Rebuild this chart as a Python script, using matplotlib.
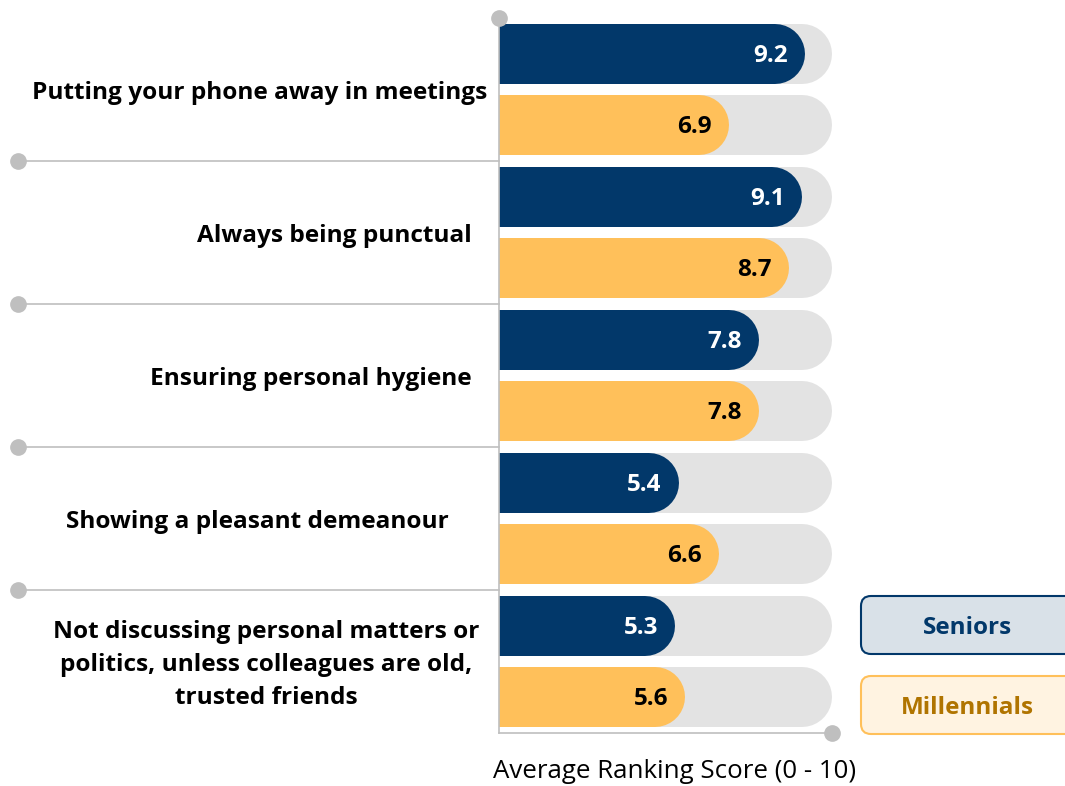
import matplotlib
matplotlib.use("Agg")
import matplotlib.pyplot as plt
from matplotlib.patches import FancyBboxPatch

# data
categories = ["Putting your phone away in meetings",
              "Always being punctual",
              "Ensuring personal hygiene",
              "Showing a pleasant demeanour",
              "Not discussing personal matters or\npolitics, unless colleagues are old,\ntrusted friends"]
seniors = [9.2, 9.1, 7.8, 5.4, 5.3]
millennials = [6.9, 8.7, 7.8, 6.6, 5.6]
series_names = ["Seniors", "Millennials"]
xlabel = "Average Ranking Score (0 - 10)"
score_max = 10

NAVY = "#02386A"
GOLD = "#FFC05A"
TRACK = "#E3E3E3"
LINE = "#BFBFBF"

plt.rcParams['font.family'] = ['Open Sans', 'DejaVu Sans']

W, H = 1065, 786
fig = plt.figure(figsize=(W / 100, H / 100), dpi=100)

ppu = 33.3          # pixels per score unit
x0_px = 499
xmax = 10.5
top_px, bot_px = 18, 733
ax = fig.add_axes([x0_px / W, (H - bot_px) / H, xmax * ppu / W, (bot_px - top_px) / H])
ax.set_xlim(0, xmax)
ax.set_ylim(9.5, -0.5)
ax.axis("off")

bar_pt = 60 * 0.72           # bar thickness 60 px in points
cap = 30 / ppu               # round cap length in data units

for i in range(len(categories)):
    for j, (vals, col, tcol) in enumerate([(seniors, NAVY, "white"), (millennials, GOLD, "black")]):
        y = 2 * i + j
        ax.plot([-1, score_max - cap], [y, y], color=TRACK, lw=bar_pt,
                solid_capstyle="round", zorder=1)
        ax.plot([-1, vals[i] - cap], [y, y], color=col, lw=bar_pt,
                solid_capstyle="round", zorder=2)
        ax.text(vals[i] - 0.52, y + 0.03, f"{vals[i]:.1f}", color=tcol, fontsize=17.5,
                fontweight="bold", ha="right", va="center", zorder=3)

# axis lines with dots
ax.plot([0, 0], [-0.5, 9.5], color=LINE, lw=1.2, clip_on=False, zorder=4)
ax.plot([0], [-0.5], "o", color=LINE, ms=11, clip_on=False, zorder=4)
ax.plot([0, score_max], [9.5, 9.5], color=LINE, lw=1.2, clip_on=False, zorder=4)
ax.plot([score_max], [9.5], "o", color=LINE, ms=11, clip_on=False, zorder=4)

left_x = (18 - x0_px) / ppu
for k in range(1, len(categories)):
    y = 2 * k - 0.5
    ax.plot([left_x, 0], [y, y], color=LINE, lw=1.2, clip_on=False, zorder=4)
    ax.plot([left_x], [y], "o", color=LINE, ms=11, clip_on=False, zorder=4)

# category labels
label_cx = [260, 334, 311, 257, 266]
for i, lab in enumerate(categories):
    ax.text((label_cx[i] - x0_px) / ppu, 2 * i + 0.55, lab, fontsize=17.6,
            fontweight="bold", ha="center", va="center", linespacing=1.5,
            clip_on=False)

fig.text(675 / W, 1 - 771 / H, xlabel, fontsize=18.6, ha="center", va="center")

# legend boxes
leg_styles = [(NAVY, "#D9E1E8", NAVY, 596), (GOLD, "#FFF3E1", "#B07400", 676)]
for name, (ec, fc, tc, ytop) in zip(series_names, leg_styles):
    box = FancyBboxPatch((8.61, (H - ytop - 58) / 100), 2.3, 0.58,
                         boxstyle="round,pad=0,rounding_size=0.1",
                         transform=fig.dpi_scale_trans, fc=fc, ec=ec, lw=1.5)
    fig.patches.append(box)
    fig.text(967 / W, 1 - (ytop + 32) / H, name, fontsize=17.5, fontweight="bold",
             color=tc, ha="center", va="center")

fig.savefig("out.png", dpi=100)
